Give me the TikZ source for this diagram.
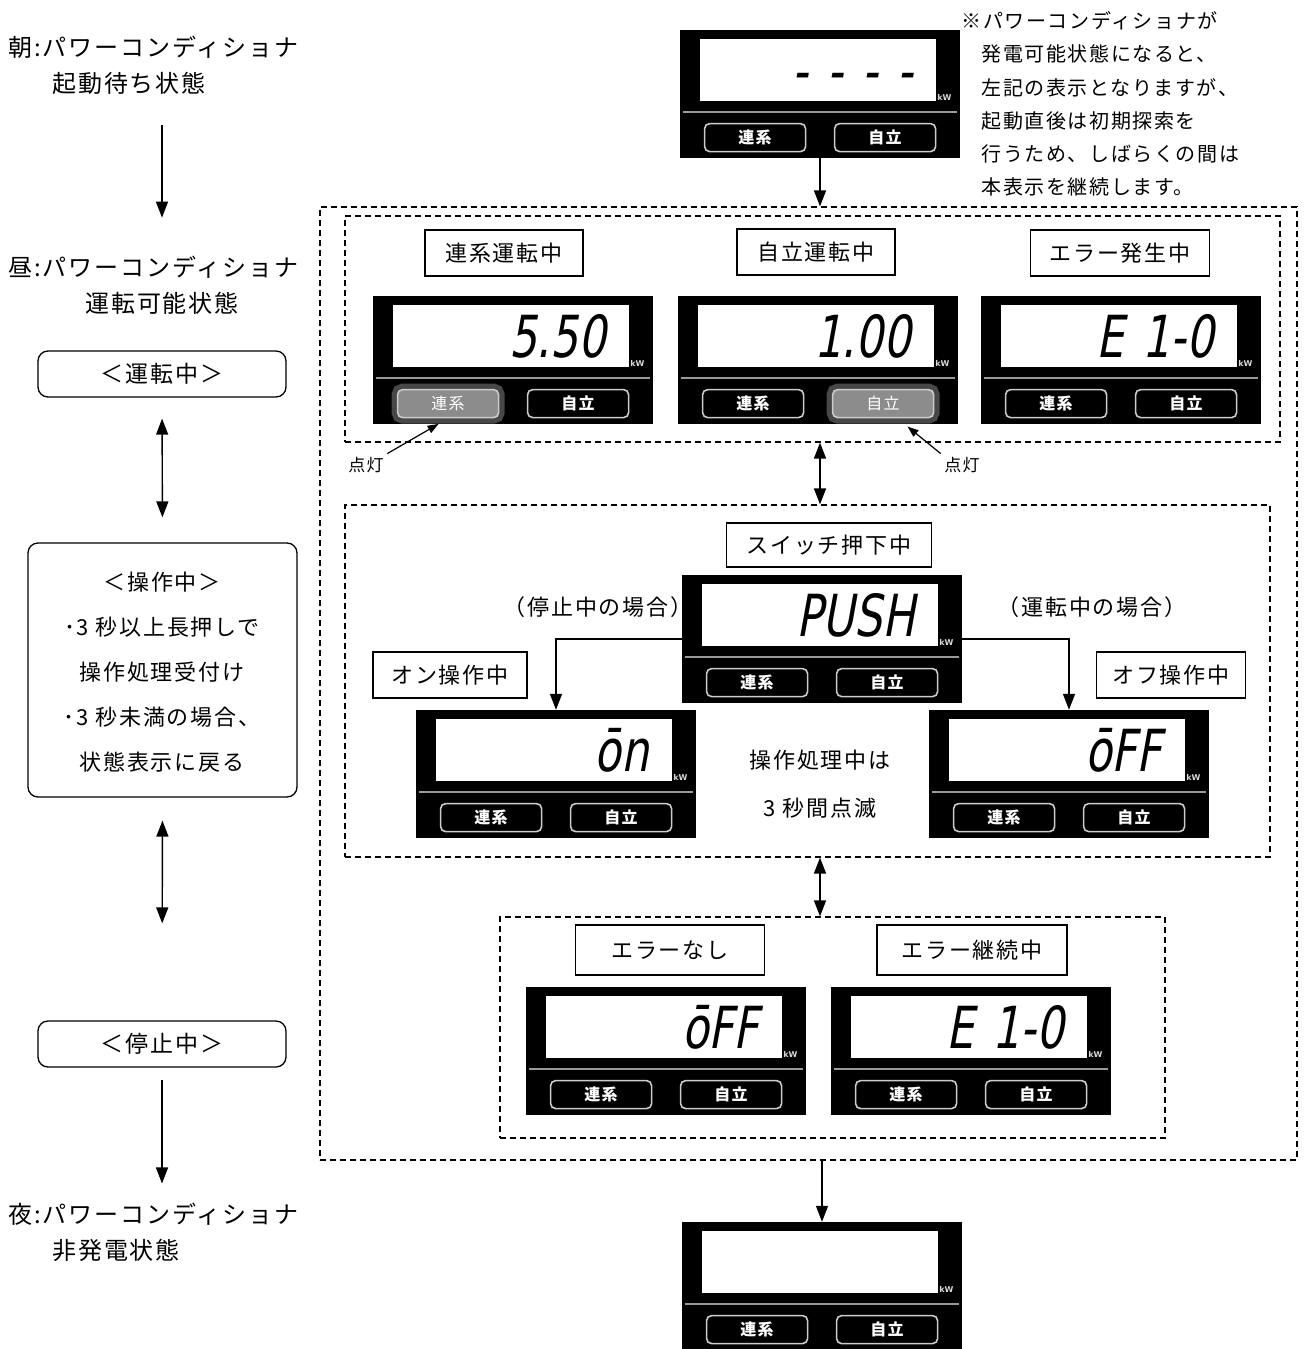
\documentclass[tikz,border=0pt]{standalone}
\usepackage{fontspec}
\setmainfont{Noto Sans CJK JP}[LetterSpace=8]
\newfontfamily\segfont{DejaVu Sans}[FakeSlant=0.18, FakeStretch=0.75]
\newfontfamily\unitfont{DejaVu Sans}
\usetikzlibrary{positioning}
\usetikzlibrary{arrows.meta}
\usetikzlibrary{calc}

\definecolor{litgray}{gray}{0.55}
\definecolor{glowgray}{gray}{0.28}
\definecolor{sepgray}{gray}{0.6}

% one display unit: name, centre, reading, style of left button, style of right button
\newcommand{\lcdpanel}[5]{%
  \node[panel] (#1) at (#2) {};
  \node[screen, anchor=north west] (#1s) at ([shift={(20,9)}]#1.north west) {#3};
  \node[unit, anchor=south west] (#1u) at (#1s.south east) {kW};
  \draw[sepline] ([shift={(3,82)}]#1.north west) -- ([shift={(-3,82)}]#1.north east);
  \node[#4, anchor=north west] (#1a) at ([shift={(24,93)}]#1.north west) {連系};
  \node[#5, anchor=north west] (#1b) at ([shift={(154,93)}]#1.north west) {自立};
}

\begin{document}
\begin{tikzpicture}[
  x=1pt, y=-1pt,
  font=\fontsize{22}{22}\selectfont,
  panel/.style={fill=black, minimum width=280pt, minimum height=128pt, inner sep=0pt},
  screen/.style={fill=white, minimum height=62pt, text width=190pt, inner xsep=23pt, inner ysep=0pt,
    align=right, text height=42pt, text depth=0pt, font=\segfont\fontsize{58}{58}\selectfont},
  unit/.style={text=white!85!black, inner sep=1pt, font=\unitfont\bfseries\fontsize{8}{8}\selectfont},
  sepline/.style={draw=sepgray, line width=2pt},
  btn/.style={draw=white!80!black, line width=1.6pt, rounded corners=5pt, fill=black, text=white,
    minimum width=101pt, minimum height=28pt, inner sep=0pt, font=\bfseries\fontsize{16}{16}\selectfont},
  btnlit/.style={btn, fill=litgray, font=\fontsize{16}{16}\selectfont,
    preaction={draw=glowgray, line width=12pt}},
  lbl/.style={draw, line width=1.2pt, minimum height=46pt, inner sep=0pt},
  sbox/.style={draw, line width=1.3pt, rounded corners=10pt, minimum width=248pt, minimum height=46pt,
    font=\fontsize{23}{23}\selectfont},
  daytext/.style={align=left, inner sep=0pt, font=\fontsize{24}{36}\selectfont},
  dbox/.style={draw, line width=1.2pt, dash pattern=on 6pt off 4pt, inner sep=0pt},
  arr/.style={-{Triangle[length=16pt,width=12pt]}, line width=1.4pt},
  darr/.style={{Triangle[length=16pt,width=12pt]}-{Triangle[length=16pt,width=12pt]}, line width=1.4pt},
  sarr/.style={-{Triangle[length=11pt,width=8pt]}, line width=1.2pt}
]
\useasboundingbox (0,0) rectangle (1308,1349);

% --- Left column: time of day and states ------------------------------------
\node[daytext, anchor=west] (morning) at (8,65)
{朝:パワーコンディショナ\\\hspace*{44pt}起動待ち状態};
\node[daytext, anchor=west] (noon) at (8,285)
{昼:パワーコンディショナ\\\hspace*{77pt}運転可能状態};
\node[daytext, anchor=west] (night) at (8,1232)
{夜:パワーコンディショナ\\\hspace*{44pt}非発電状態};

\node[sbox] (run) at (162,374) {＜運転中＞};
\node[sbox, minimum width=269pt, minimum height=254pt] (opbox) at (162.5,670) {};
\node[align=center, font=\fontsize{22}{45}\selectfont] (optext) at (162,672)
{＜操作中＞\\･3 秒以上長押しで\\操作処理受付け\\･3 秒未満の場合、\\状態表示に戻る};
\node[sbox] (stop) at (162,1044) {＜停止中＞};

\draw[arr, shorten <=31pt, shorten >=38pt] (morning.south -| run.north) -- (noon.north -| run.north);
\draw[darr, shorten <=21pt, shorten >=25pt] (run.south) -- (opbox.north);
\draw[darr, shorten <=23pt, shorten >=97pt] (opbox.south) -- (stop.north);
\draw[arr, shorten <=12pt, shorten >=19pt] (stop.south) -- (night.north -| stop.south);

% --- Right side: dashed frames ------------------------------------------------
\node[dbox, minimum width=977pt, minimum height=953pt] (outer) at (808.5,683.5) {};
\node[dbox, minimum width=935pt, minimum height=226pt] (inner1) at (812.5,329) {};
\node[dbox, minimum width=925pt, minimum height=352pt] (inner2) at (807.5,681) {};
\node[dbox, minimum width=665pt, minimum height=221pt] (inner3) at (832.5,1027.5) {};

% --- Displays -------------------------------------------------------------------
\lcdpanel{dTop}{820,94}{- - - -}{btn}{btn}
\lcdpanel{dGrid}{513,360}{5.50}{btnlit}{btn}
\lcdpanel{dSelf}{818,360}{1.00}{btn}{btnlit}
\lcdpanel{dErr}{1121,360}{E 1-0}{btn}{btn}
\lcdpanel{dPush}{822,639}{PUSH}{btn}{btn}
\lcdpanel{dOn}{556,774}{ōn}{btn}{btn}
\lcdpanel{dOff}{1069,774}{ōFF}{btn}{btn}
\lcdpanel{dNoErr}{666,1051}{ōFF}{btn}{btn}
\lcdpanel{dErr2}{971,1051}{E 1-0}{btn}{btn}
\lcdpanel{dBottom}{822,1286}{}{btn}{btn}

% --- Captions -------------------------------------------------------------------
\node[lbl, minimum width=158pt] (tGrid) at (504,253) {連系運転中};
\node[lbl, minimum width=158pt] (tSelf) at (816,252) {自立運転中};
\node[lbl, minimum width=179pt] (tErr) at (1120,253) {エラー発生中};
\node[lbl, minimum width=205pt, minimum height=44pt] (tPush) at (829,545) {スイッチ押下中};
\node[lbl, minimum width=154pt] (tOn) at (450,675) {オン操作中};
\node[lbl, minimum width=149pt] (tOff) at (1171,675) {オフ操作中};
\node[lbl, minimum width=189pt, minimum height=50pt] (tNoErr) at (670,950) {エラーなし};
\node[lbl, minimum width=190pt, minimum height=50pt] (tErr2) at (972,950) {エラー継続中};

\node[align=left, font=\fontsize{20}{33.3}\selectfont, anchor=west] (note) at (958,104)
{※パワーコンディショナが\\\phantom{※}発電可能状態になると、\\\phantom{※}左記の表示となりますが、\\
 \phantom{※}起動直後は初期探索を\\\phantom{※}行うため、しばらくの間は\\\phantom{※}本表示を継続します。};

\node (caseStop) at (598,607) {（停止中の場合）};
\node (caseRun) at (1092,607) {（運転中の場合）};
\node (procA) at (820,760) {操作処理中は};
\node (procB) at (820,808) {3 秒間点滅};

\node[font=\fontsize{17}{17}\selectfont] (litA) at (366,465) {点灯};
\node[font=\fontsize{17}{17}\selectfont] (litB) at (962,465) {点灯};

% --- Connectors -----------------------------------------------------------------
\draw[arr] (dTop.south) -- (dTop.south |- outer.north);
\draw[darr] (inner1.south -| dTop.south) -- (inner2.north -| dTop.south);
\draw[darr] (inner2.south -| dTop.south) -- (inner3.north -| dTop.south);
\draw[arr] (outer.south -| dBottom.north) -- (dBottom.north);

\draw[arr] (dPush.west) -| (dOn.north);
\draw[arr] (dPush.east) -| (dOff.north);

\draw[sarr, shorten >=11pt] (litA.north east) -- (dGrida.south);
\draw[sarr, shorten >=13pt] (litB.north west) -- ($(dSelfb.south)!0.28!(dSelfb.south east)$);

\end{tikzpicture}
\end{document}
